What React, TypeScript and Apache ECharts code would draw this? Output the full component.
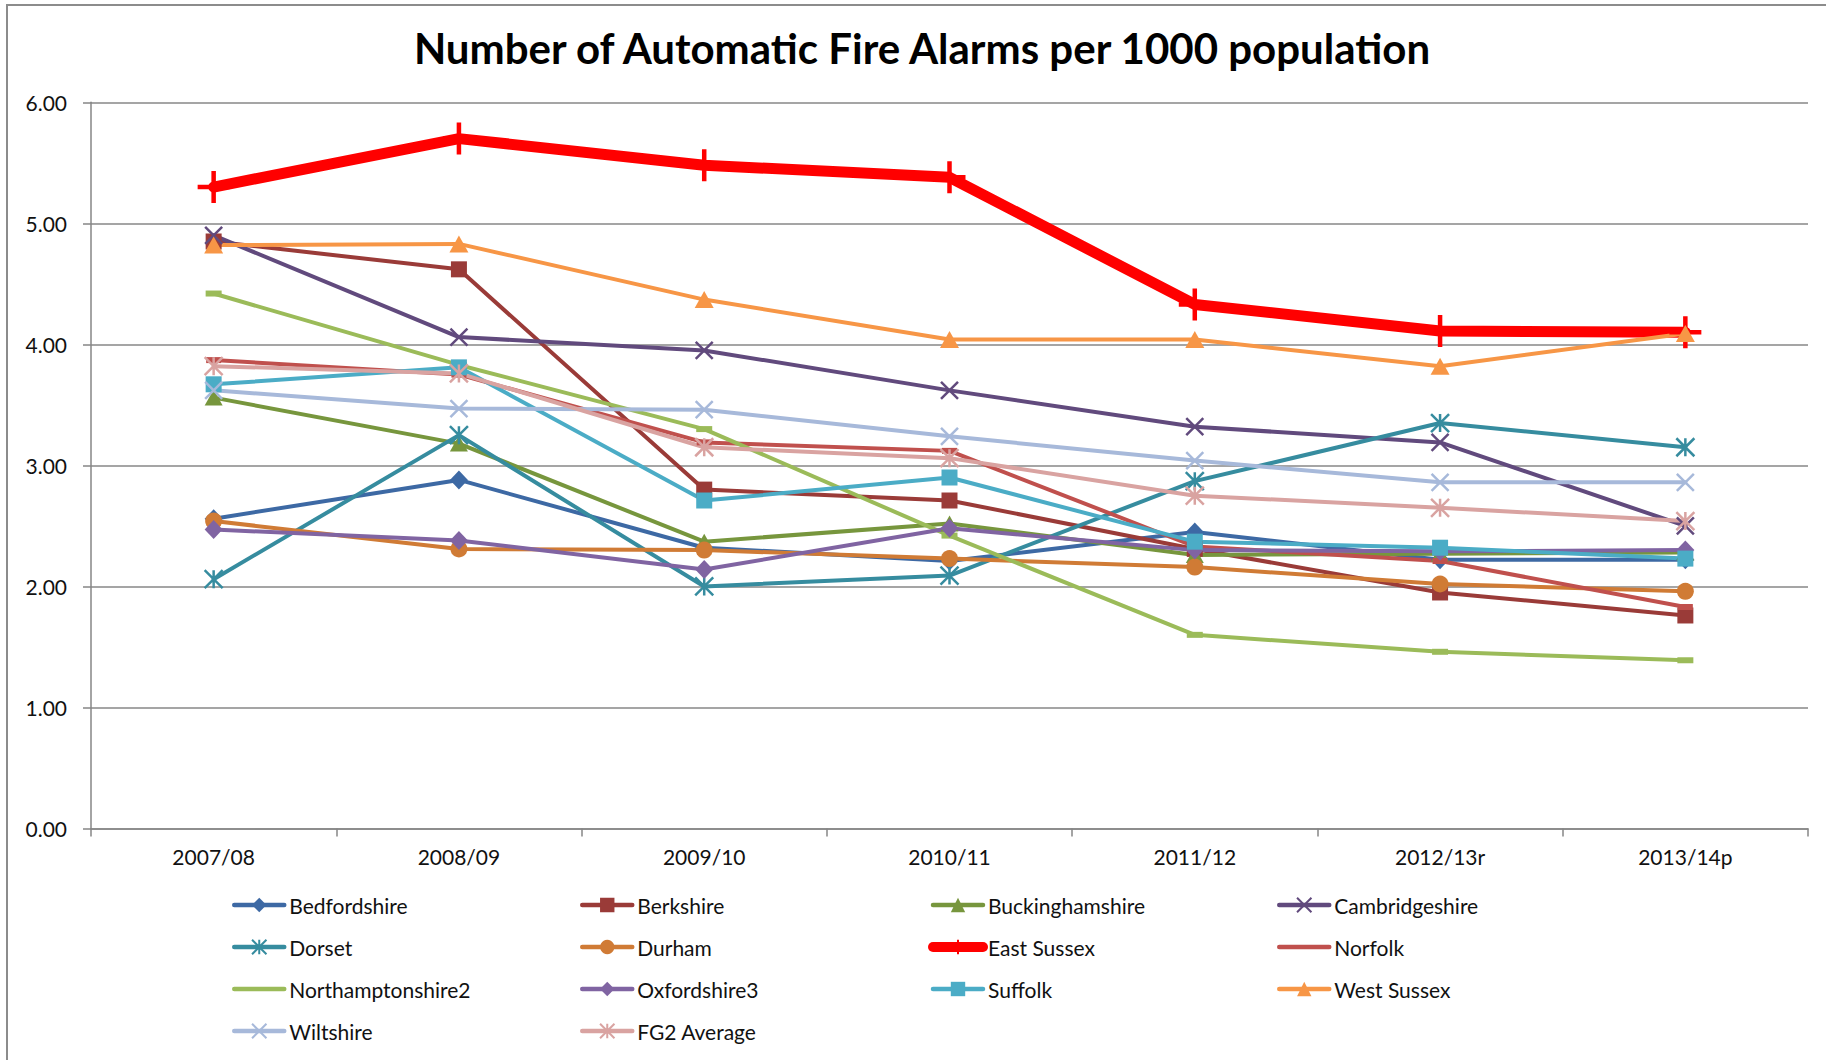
import React, { useEffect, useRef } from "react";
import * as echarts from "echarts";

// Financial years on the category axis
const categories = ["2007/08", "2008/09", "2009/10", "2010/11", "2011/12", "2012/13r", "2013/14p"];

// Automatic fire alarms per 1000 population, by authority
const bedfordshire = [2.56, 2.88, 2.32, 2.21, 2.45, 2.22, 2.22];
const berkshire = [4.85, 4.62, 2.8, 2.71, 2.31, 1.95, 1.76];
const buckinghamshire = [3.56, 3.18, 2.37, 2.52, 2.26, 2.27, 2.28];
const cambridgeshire = [4.9, 4.06, 3.95, 3.62, 3.32, 3.19, 2.5];
const dorset = [2.06, 3.25, 2.0, 2.09, 2.87, 3.35, 3.15];
const durham = [2.54, 2.31, 2.3, 2.23, 2.16, 2.02, 1.96];
const eastSussex = [5.3, 5.7, 5.48, 5.38, 4.33, 4.11, 4.1];
const norfolk = [3.87, 3.75, 3.19, 3.12, 2.33, 2.21, 1.83];
const northamptonshire2 = [4.42, 3.83, 3.3, 2.42, 1.6, 1.46, 1.39];
const oxfordshire3 = [2.47, 2.38, 2.14, 2.48, 2.3, 2.29, 2.3];
const suffolk = [3.67, 3.81, 2.71, 2.9, 2.37, 2.32, 2.23];
const westSussex = [4.82, 4.83, 4.37, 4.04, 4.04, 3.82, 4.09];
const wiltshire = [3.62, 3.47, 3.46, 3.24, 3.04, 2.86, 2.86];
const fg2Average = [3.82, 3.76, 3.15, 3.06, 2.75, 2.65, 2.54];

// Y axis range and tick step
const yMin = 0;
const yMax = 6;
const yStep = 1;

const FONT = "Lato, 'Liberation Sans', sans-serif";

const CROSS = "path://M0,0L10,10M10,0L0,10";
const STAR = "path://M0,0L10,10M10,0L0,10M5,0L5,10";
const PLUS = "path://M5,0L5,10M0,5L10,5";

type Spec = {
  name: string;
  data: number[];
  color: string;
  symbol: string;
  size: number | number[];
  width?: number;
  stroke?: number;
  plainLegend?: boolean;
};

const specs: Spec[] = [
  { name: "Bedfordshire", data: bedfordshire, color: "#3D69A4", symbol: "diamond", size: [18, 19] },
  { name: "Berkshire", data: berkshire, color: "#9A3B38", symbol: "rect", size: 16 },
  { name: "Buckinghamshire", data: buckinghamshire, color: "#77963D", symbol: "triangle", size: [18, 16] },
  { name: "Cambridgeshire", data: cambridgeshire, color: "#614A7D", symbol: CROSS, size: 17, stroke: 2.5 },
  { name: "Dorset", data: dorset, color: "#368C9F", symbol: STAR, size: 18, stroke: 2.5 },
  { name: "Durham", data: durham, color: "#D07B35", symbol: "circle", size: 17 },
  { name: "East Sussex", data: eastSussex, color: "#FF0000", symbol: PLUS, size: 32, width: 11, stroke: 4.5 },
  { name: "Norfolk", data: norfolk, color: "#C0504D", symbol: "rect", size: [15, 6], plainLegend: true },
  { name: "Northamptonshire2", data: northamptonshire2, color: "#9BBB59", symbol: "rect", size: [16, 6], plainLegend: true },
  { name: "Oxfordshire3", data: oxfordshire3, color: "#8064A2", symbol: "diamond", size: [18, 19] },
  { name: "Suffolk", data: suffolk, color: "#4BACC6", symbol: "rect", size: 16 },
  { name: "West Sussex", data: westSussex, color: "#F79646", symbol: "triangle", size: [19, 17] },
  { name: "Wiltshire", data: wiltshire, color: "#A7B9DA", symbol: CROSS, size: 17, stroke: 2.5 },
  { name: "FG2 Average", data: fg2Average, color: "#D9A3A1", symbol: STAR, size: 18, stroke: 2.5 },
];

// Legend laid out in four columns, row by row
const legendColumns = [
  ["Bedfordshire", "Dorset", "Northamptonshire2", "Wiltshire"],
  ["Berkshire", "Durham", "Oxfordshire3", "FG2 Average"],
  ["Buckinghamshire", "East Sussex", "Suffolk"],
  ["Cambridgeshire", "Norfolk", "West Sussex"],
];
const legendLefts = [232, 580, 928, 1277];

export default function App() {
  const ref = useRef<HTMLDivElement>(null);

  useEffect(() => {
    if (!ref.current) return;
    const chart = echarts.init(ref.current, undefined, { renderer: "svg" });

    const series = specs.map((s) => ({
      name: s.name,
      type: "line",
      data: s.data,
      symbol: s.symbol,
      symbolSize: s.size,
      showAllSymbol: true,
      lineStyle: { color: s.color, width: s.width ?? 4, cap: "round", join: "round" },
      itemStyle: s.stroke
        ? { color: s.color, borderColor: s.color, borderWidth: s.stroke }
        : { color: s.color, borderColor: s.color, borderWidth: 0 },
      emphasis: { disabled: true },
      z: 2,
    }));

    const byName = new Map(specs.map((s) => [s.name, s]));

    const legends = legendColumns.map((col, i) => ({
      data: col.map((name) => {
        const s = byName.get(name)!;
        return {
          name,
          lineStyle: { width: s.width ? 10 : 4.5, color: s.color },
          itemStyle: s.plainLegend ? { opacity: 0 } : undefined,
        };
      }),
      orient: "vertical",
      left: legendLefts[i],
      top: 893,
      padding: 0,
      itemWidth: 50,
      itemHeight: 18,
      itemGap: 18,
      selectedMode: false,
      textStyle: { fontFamily: FONT, fontSize: 21, color: "#111", lineHeight: 24 },
    }));

    chart.setOption({
      animation: false,
      backgroundColor: "#ffffff",
      graphic: [
        {
          type: "rect",
          shape: { x: 7, y: 5, width: 2000, height: 2000 },
          style: { fill: "none", stroke: "#8C8C8C", lineWidth: 2 },
          silent: true,
        },
        {
          type: "text",
          x: 922,
          y: 48,
          style: {
            text: "Number of Automatic Fire Alarms per 1000 population",
            fontFamily: FONT,
            fontWeight: "bold",
            fontSize: 42,
            fill: "#000",
            textAlign: "center",
            textVerticalAlign: "middle",
          },
        },
      ],
      legend: legends,
      grid: { left: 91, top: 102.3, width: 1717, height: 726.2 },
      xAxis: {
        type: "category",
        data: categories,
        boundaryGap: true,
        axisLine: { lineStyle: { color: "#868686", width: 1.5 } },
        axisTick: { show: true, length: 8, inside: false, alignWithLabel: false, lineStyle: { color: "#868686", width: 1.5 } },
        axisLabel: { fontFamily: FONT, fontSize: 21, color: "#111", margin: 17 },
      },
      yAxis: {
        type: "value",
        min: yMin,
        max: yMax,
        interval: yStep,
        axisLine: { show: true, lineStyle: { color: "#868686", width: 1.5 } },
        axisTick: { show: true, length: 8, lineStyle: { color: "#868686", width: 1.5 } },
        axisLabel: {
          fontFamily: FONT,
          fontSize: 21,
          color: "#111",
          margin: 24,
          formatter: (v: number) => v.toFixed(2),
        },
        splitLine: { show: true, lineStyle: { color: "#878787", width: 1.5 } },
      },
      series,
    });

    return () => chart.dispose();
  }, []);

  return (
    <div
      ref={ref}
      style={{ position: "fixed", left: 0, top: 0, width: 1826, height: 1060, background: "#fff" }}
    />
  );
}
